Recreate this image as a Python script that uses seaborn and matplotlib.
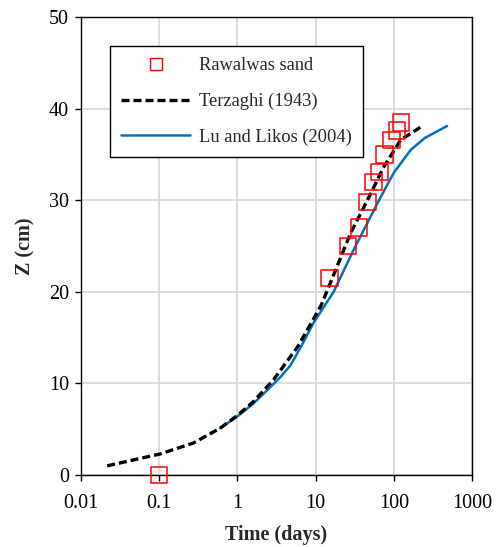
import numpy as np
import pandas as pd
import matplotlib
matplotlib.use("Agg")
import matplotlib.pyplot as plt
from matplotlib.lines import Line2D
import seaborn as sns

# Data
obs_time = [0.1, 15.1, 25.8, 35.6, 46, 55, 66, 76, 94, 109, 123]
obs_z = [0.0, 21.5, 25.0, 27.0, 29.8, 32.0, 33.1, 35.0, 36.6, 37.6, 38.5]

terz_time = [0.0216, 0.05, 0.103, 0.275, 0.6, 1.0, 1.6, 2.9, 5.9, 11.6, 15.5, 28, 46, 74, 123, 222]
terz_z = [1.0, 1.7, 2.3, 3.5, 5.1, 6.5, 8.0, 10.4, 14.0, 18.4, 21.0, 26.4, 30.0, 33.6, 36.6, 38.0]

lu_time = [0.6, 1.0, 1.6, 2.5, 3.56, 4.8, 6.5, 9.4, 17, 30.7, 62, 100, 165, 250, 480]
lu_z = [5.1, 6.4, 7.8, 9.4, 10.7, 12.0, 14.0, 16.6, 20.0, 24.6, 29.7, 33.0, 35.5, 36.8, 38.1]

x_ticks = [0.01, 0.1, 1, 10, 100, 1000]
x_labels = ["0.01", "0.1", "1", "10", "100", "1000"]
y_ticks = [0, 10, 20, 30, 40, 50]

sns.set_style("white")
plt.rcParams['font.family'] = ['Liberation Serif', 'DejaVu Serif']

fig = plt.figure(figsize=(4.98, 5.47), dpi=100)
ax = fig.add_axes([81/498, 1-475/547, (472-81)/498, (475-17)/547])

df_terz = pd.DataFrame({"t": terz_time, "z": terz_z})
df_lu = pd.DataFrame({"t": lu_time, "z": lu_z})
df_obs = pd.DataFrame({"t": obs_time, "z": obs_z})

blue = "#0070C0"
sns.lineplot(data=df_lu, x="t", y="z", ax=ax, color=blue, lw=1.8, sort=False, zorder=3)
sns.lineplot(data=df_terz, x="t", y="z", ax=ax, color="black", lw=2.4, sort=False, zorder=4)
ax.lines[-1].set_dashes([2.4, 1.2])
sns.scatterplot(data=df_obs, x="t", y="z", ax=ax, marker="s", s=140, facecolor="none",
                edgecolor="#FF0000", linewidth=1.1, zorder=5, clip_on=False)

ax.set_xscale("log")
ax.set_xlim(0.01, 1000)
ax.set_ylim(0, 50)
ax.set_xticks(x_ticks)
ax.set_xticklabels(x_labels)
ax.xaxis.set_minor_locator(matplotlib.ticker.NullLocator())
ax.set_yticks(y_ticks)

ax.grid(True, color="#D9D9D9", lw=1.3)
ax.set_axisbelow(True)
for s in ax.spines.values():
    s.set_color("black")
    s.set_linewidth(1.0)
ax.tick_params(axis="both", which="major", direction="out", length=4.5, width=1,
               labelsize=14.5, colors="black", bottom=True, left=True, pad=4)
ax.tick_params(axis="x", pad=9)

ax.set_xlabel("Time (days)", fontsize=14.5, fontweight="bold", labelpad=9)
ax.set_ylabel("Z (cm)", fontsize=14.5, fontweight="bold", labelpad=10)

handles = [
    Line2D([], [], ls="none", marker="s", markersize=8, markerfacecolor="none",
           markeredgecolor="#FF0000", markeredgewidth=1.0),
    Line2D([], [], color="black", lw=2.4, dashes=[2.4, 1.2]),
    Line2D([], [], color=blue, lw=1.8),
]
labels = ["Rawalwas sand", "Terzaghi (1943)", "Lu and Likos (2004)"]
leg = ax.legend(handles, labels, loc="upper left", bbox_to_anchor=(29/391, 1-29/458),
                fontsize=13.3, frameon=True, fancybox=False, edgecolor="black",
                framealpha=1, borderpad=0.62, labelspacing=1.0, handlelength=3.7,
                handletextpad=0.5, borderaxespad=0)
leg.get_frame().set_linewidth(1.0)

fig.savefig("out.png", dpi=100)
